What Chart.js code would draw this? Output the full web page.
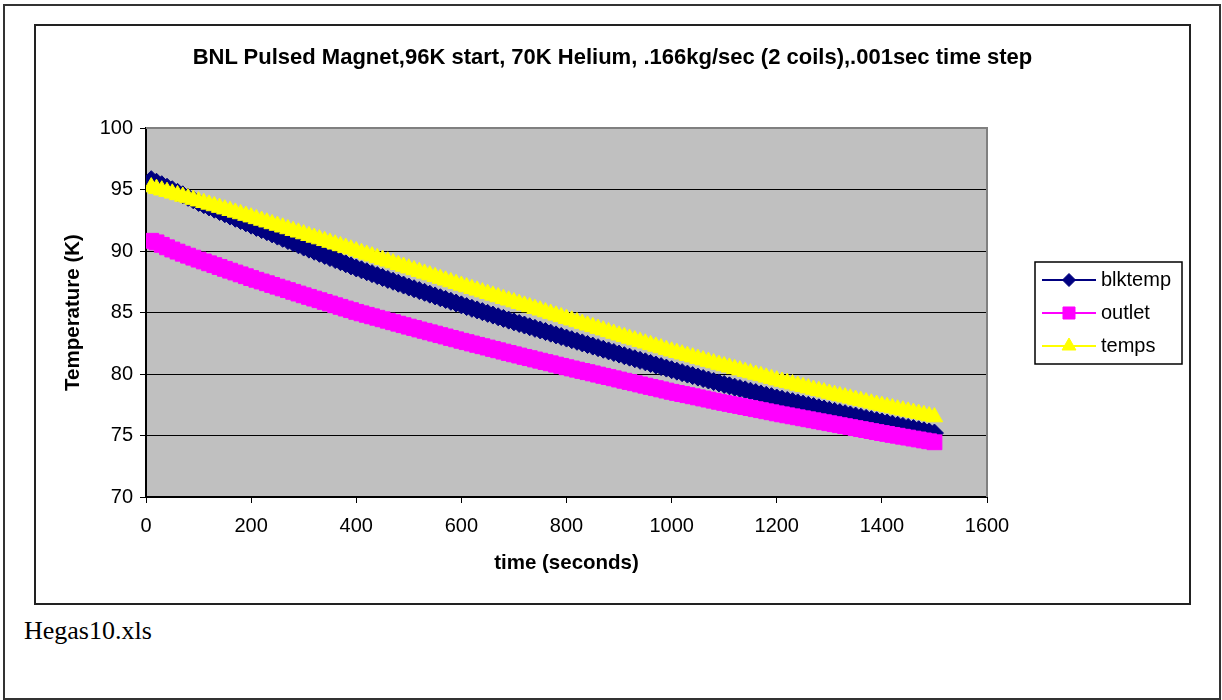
<!DOCTYPE html>
<html>
<head>
<meta charset="utf-8">
<title>BNL Pulsed Magnet</title>
<script src="https://cdn.jsdelivr.net/npm/chart.js@4.4.1/dist/chart.umd.min.js"></script>
<style>
  html, body { margin: 0; padding: 0; background: #fff; }
  body { width: 1222px; height: 700px; position: relative; overflow: hidden; }
  #page { position: absolute; left: 3px; top: 4px; width: 1218px; height: 696px; border: 2px solid #333; box-sizing: border-box; }
  #frame { position: absolute; left: 34px; top: 24px; width: 1157px; height: 581px; border: 2px solid #222; box-sizing: border-box; }
  #chart { position: absolute; left: 36px; top: 26px; }
  #title { position: absolute; left: 36px; top: 44px; width: 1153px; text-align: center; font: bold 22px/26px "Liberation Sans", Arial, sans-serif; color: #000; white-space: nowrap; }
  #note { position: absolute; left: 24px; top: 618px; font: 26px/26px "Liberation Serif", "Times New Roman", serif; color: #000; }
</style>
</head>
<body>
<div id="page"></div>
<div id="frame"></div>
<canvas id="chart" width="1153" height="577"></canvas>
<div id="title">BNL Pulsed Magnet,96K start, 70K Helium, .166kg/sec (2 coils),.001sec time step</div>
<div id="note">Hegas10.xls</div>
<script>
// time in seconds, one sample every 10 s
var times = [
    10, 20, 30, 40, 50, 60, 70, 80, 90, 100,
    110, 120, 130, 140, 150, 160, 170, 180, 190, 200,
    210, 220, 230, 240, 250, 260, 270, 280, 290, 300,
    310, 320, 330, 340, 350, 360, 370, 380, 390, 400,
    410, 420, 430, 440, 450, 460, 470, 480, 490, 500,
    510, 520, 530, 540, 550, 560, 570, 580, 590, 600,
    610, 620, 630, 640, 650, 660, 670, 680, 690, 700,
    710, 720, 730, 740, 750, 760, 770, 780, 790, 800,
    810, 820, 830, 840, 850, 860, 870, 880, 890, 900,
    910, 920, 930, 940, 950, 960, 970, 980, 990, 1000,
    1010, 1020, 1030, 1040, 1050, 1060, 1070, 1080, 1090, 1100,
    1110, 1120, 1130, 1140, 1150, 1160, 1170, 1180, 1190, 1200,
    1210, 1220, 1230, 1240, 1250, 1260, 1270, 1280, 1290, 1300,
    1310, 1320, 1330, 1340, 1350, 1360, 1370, 1380, 1390, 1400,
    1410, 1420, 1430, 1440, 1450, 1460, 1470, 1480, 1490, 1500
];

var blktemp = [
    95.80, 95.59, 95.39, 95.18, 94.98, 94.77, 94.57, 94.36, 94.16, 93.95,
    93.77, 93.58, 93.40, 93.21, 93.03, 92.84, 92.66, 92.47, 92.29, 92.10,
    91.92, 91.74, 91.57, 91.39, 91.21, 91.03, 90.85, 90.68, 90.50, 90.32,
    90.15, 89.98, 89.81, 89.64, 89.47, 89.30, 89.13, 88.96, 88.79, 88.62,
    88.47, 88.31, 88.16, 88.00, 87.85, 87.69, 87.54, 87.38, 87.23, 87.07,
    86.93, 86.78, 86.64, 86.49, 86.35, 86.20, 86.06, 85.91, 85.77, 85.62,
    85.48, 85.34, 85.21, 85.07, 84.93, 84.79, 84.65, 84.52, 84.38, 84.24,
    84.11, 83.98, 83.84, 83.71, 83.58, 83.45, 83.32, 83.18, 83.05, 82.92,
    82.79, 82.66, 82.53, 82.40, 82.27, 82.14, 82.01, 81.88, 81.75, 81.62,
    81.49, 81.37, 81.24, 81.11, 80.99, 80.86, 80.73, 80.60, 80.48, 80.35,
    80.23, 80.11, 79.99, 79.87, 79.75, 79.63, 79.51, 79.39, 79.27, 79.15,
    79.04, 78.93, 78.82, 78.71, 78.60, 78.49, 78.38, 78.27, 78.16, 78.05,
    77.95, 77.85, 77.75, 77.65, 77.55, 77.45, 77.35, 77.25, 77.15, 77.05,
    76.96, 76.86, 76.77, 76.67, 76.58, 76.48, 76.39, 76.29, 76.20, 76.10,
    76.01, 75.92, 75.83, 75.74, 75.65, 75.56, 75.47, 75.38, 75.29, 75.20
];

var outlet = [
    90.83, 90.70, 90.50, 90.30, 90.12, 89.95, 89.78, 89.62, 89.46, 89.30,
    89.15, 89.00, 88.85, 88.70, 88.55, 88.40, 88.25, 88.10, 87.95, 87.80,
    87.66, 87.52, 87.38, 87.24, 87.10, 86.96, 86.82, 86.68, 86.54, 86.40,
    86.27, 86.13, 86.00, 85.86, 85.73, 85.59, 85.46, 85.32, 85.19, 85.05,
    84.93, 84.81, 84.69, 84.57, 84.45, 84.33, 84.21, 84.09, 83.97, 83.85,
    83.74, 83.62, 83.51, 83.39, 83.28, 83.16, 83.05, 82.93, 82.82, 82.70,
    82.59, 82.48, 82.37, 82.26, 82.15, 82.04, 81.93, 81.82, 81.71, 81.60,
    81.50, 81.39, 81.29, 81.18, 81.08, 80.97, 80.87, 80.76, 80.66, 80.55,
    80.45, 80.35, 80.25, 80.15, 80.05, 79.95, 79.85, 79.75, 79.65, 79.55,
    79.45, 79.35, 79.25, 79.15, 79.05, 78.95, 78.85, 78.75, 78.65, 78.55,
    78.46, 78.37, 78.28, 78.19, 78.10, 78.01, 77.92, 77.83, 77.74, 77.65,
    77.57, 77.48, 77.40, 77.31, 77.23, 77.14, 77.06, 76.97, 76.89, 76.80,
    76.72, 76.64, 76.56, 76.48, 76.40, 76.32, 76.24, 76.16, 76.08, 76.00,
    75.92, 75.84, 75.76, 75.68, 75.60, 75.52, 75.44, 75.36, 75.28, 75.20,
    75.13, 75.05, 74.98, 74.90, 74.83, 74.75, 74.68, 74.60, 74.53, 74.45
];

var temps = [
    95.20, 95.07, 94.94, 94.82, 94.69, 94.56, 94.43, 94.31, 94.18, 94.05,
    93.92, 93.79, 93.66, 93.53, 93.40, 93.27, 93.14, 93.01, 92.88, 92.75,
    92.61, 92.48, 92.34, 92.20, 92.07, 91.93, 91.79, 91.65, 91.52, 91.38,
    91.24, 91.10, 90.97, 90.83, 90.69, 90.55, 90.41, 90.28, 90.14, 90.00,
    89.86, 89.72, 89.58, 89.44, 89.30, 89.16, 89.02, 88.88, 88.74, 88.60,
    88.46, 88.32, 88.18, 88.04, 87.90, 87.76, 87.62, 87.48, 87.34, 87.20,
    87.07, 86.93, 86.80, 86.66, 86.53, 86.39, 86.26, 86.12, 85.99, 85.85,
    85.72, 85.58, 85.45, 85.31, 85.18, 85.04, 84.91, 84.77, 84.64, 84.50,
    84.37, 84.23, 84.10, 83.96, 83.83, 83.69, 83.56, 83.42, 83.29, 83.15,
    83.02, 82.89, 82.76, 82.63, 82.50, 82.37, 82.24, 82.11, 81.98, 81.85,
    81.73, 81.61, 81.49, 81.37, 81.25, 81.13, 81.01, 80.89, 80.77, 80.65,
    80.54, 80.42, 80.31, 80.19, 80.08, 79.96, 79.85, 79.73, 79.62, 79.50,
    79.39, 79.28, 79.18, 79.07, 78.96, 78.85, 78.74, 78.64, 78.53, 78.42,
    78.32, 78.22, 78.12, 78.02, 77.92, 77.82, 77.72, 77.62, 77.52, 77.42,
    77.33, 77.24, 77.14, 77.05, 76.96, 76.87, 76.78, 76.68, 76.59, 76.50
];

var seriesNames = ["blktemp", "outlet", "temps"];
var seriesColors = ["#000080", "#FF00FF", "#FFFF00"];
var seriesMarkers = ["rectRot", "rect", "triangle"];

var xTicks = { min: 0, max: 1600, step: 200 };
var yTicks = { min: 70, max: 100, step: 5 };

var FONT = "'Liberation Sans', Arial, sans-serif";

function pairs(values) {
    return times.map(function(t, i) { return { x: t, y: values[i] }; });
}

// grey plot area, Excel style
var plotBackground = {
    id: "plotBackground",
    beforeDraw: function(chart) {
        var a = chart.chartArea, ctx = chart.ctx;
        ctx.save();
        ctx.fillStyle = "#C0C0C0";
        ctx.fillRect(a.left, a.top, a.right - a.left, a.bottom - a.top);
        ctx.restore();
    },
    afterDraw: function(chart) {
        var a = chart.chartArea, ctx = chart.ctx;
        ctx.save();
        ctx.strokeStyle = "#808080";
        ctx.lineWidth = 2;
        ctx.beginPath();
        ctx.moveTo(a.left, a.top);
        ctx.lineTo(a.right, a.top);
        ctx.lineTo(a.right, a.bottom);
        ctx.stroke();
        ctx.restore();
    }
};

// boxed legend on the right with line + marker samples
var boxLegend = {
    id: "boxLegend",
    afterDraw: function(chart) {
        var ctx = chart.ctx;
        var box = { x: 999, y: 236, w: 147, h: 102 };
        var sizes = [6.5, 8.5, 8];
        ctx.save();
        ctx.fillStyle = "#fff";
        ctx.fillRect(box.x, box.y, box.w, box.h);
        ctx.strokeStyle = "#000";
        ctx.lineWidth = 1.5;
        ctx.strokeRect(box.x, box.y, box.w, box.h);
        chart.data.datasets.forEach(function(ds, i) {
            var y = box.y + 18 + i * 33;
            ctx.strokeStyle = ds.borderColor;
            ctx.lineWidth = 2;
            ctx.beginPath();
            ctx.moveTo(box.x + 7, y);
            ctx.lineTo(box.x + 61, y);
            ctx.stroke();
            ctx.fillStyle = ds.backgroundColor;
            ctx.strokeStyle = ds.borderColor;
            ctx.lineWidth = 1;
            Chart.helpers.drawPoint(ctx, { pointStyle: ds.pointStyle, radius: sizes[i], rotation: 0, borderWidth: 1 }, box.x + 34, y);
            ctx.fillStyle = "#000";
            ctx.font = "20px " + FONT;
            ctx.textBaseline = "middle";
            ctx.textAlign = "left";
            ctx.fillText(ds.label, box.x + 66, y);
        });
        ctx.restore();
    }
};

var datasets = [blktemp, outlet, temps].map(function(values, i) {
    return {
        label: seriesNames[i],
        data: pairs(values),
        borderColor: seriesColors[i],
        backgroundColor: seriesColors[i],
        borderWidth: 2,
        pointStyle: seriesMarkers[i],
        pointRadius: [9, 10.5, 9.5][i],
        pointBorderWidth: 1,
        order: 2 - i
    };
});

new Chart(document.getElementById("chart").getContext("2d"), {
    type: "line",
    data: { datasets: datasets },
    options: {
        responsive: false,
        animation: false,
        devicePixelRatio: 1,
        layout: { padding: { left: 0, top: 102, right: 202, bottom: 0 } },
        plugins: {
            legend: { display: false },
            tooltip: { enabled: false },
            title: { display: false }
        },
        scales: {
            x: {
                type: "linear",
                min: xTicks.min,
                max: xTicks.max,
                afterFit: function(s) { s.height = 106; },
                ticks: {
                    stepSize: xTicks.step, color: "#000", padding: 11, maxRotation: 0,
                    font: { family: FONT, size: 20 },
                    callback: function(v) { return String(v); }
                },
                grid: { drawOnChartArea: false, drawTicks: true, tickLength: 6, tickColor: "#000" },
                border: { color: "#000", width: 2 },
                title: { display: true, text: "time (seconds)", color: "#000", font: { family: FONT, size: 20.5, weight: "bold" }, padding: { top: 0, bottom: 27.7 } }
            },
            y: {
                min: yTicks.min,
                max: yTicks.max,
                afterFit: function(s) { s.width = 110; },
                ticks: { stepSize: yTicks.step, color: "#000", padding: 7, font: { family: FONT, size: 20 } },
                grid: { color: "#000", lineWidth: 1, tickLength: 6, tickColor: "#000" },
                border: { color: "#000", width: 2 },
                title: { display: true, text: "Temperature (K)", color: "#000", font: { family: FONT, size: 20.5, weight: "bold" }, padding: { top: 24.7, bottom: 0 } }
            }
        }
    },
    plugins: [plotBackground, boxLegend]
});
</script>
</body>
</html>
